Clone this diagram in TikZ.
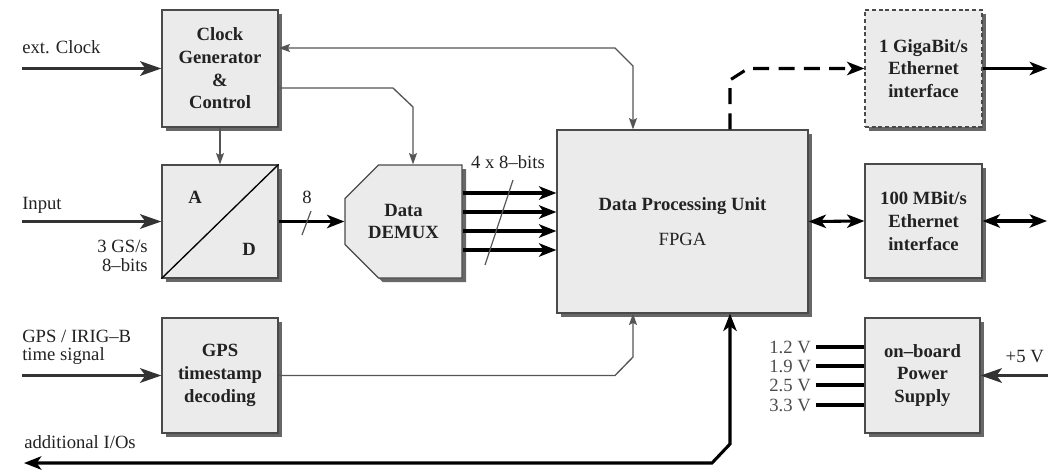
\documentclass[tikz,border=0pt]{standalone}
\usepackage{fontspec}
\setmainfont{Liberation Serif}
\usetikzlibrary{arrows.meta,positioning,calc,shadows,shapes.misc}

\definecolor{boxfill}{HTML}{EBEBEB}
\definecolor{boxline}{HTML}{4A4A4A}
\definecolor{wire}{HTML}{555555}
\definecolor{txt}{HTML}{222222}
\newcommand{\diagfont}{\fontsize{14}{17}\selectfont}

\tikzset{
  blk/.style={draw=boxline, line width=0.9pt, fill=boxfill, text=txt,
    font=\diagfont\bfseries, align=center, inner sep=0pt,
    minimum width=87pt, minimum height=86pt,
    drop shadow={shadow xshift=3pt, shadow yshift=-3pt, fill=black!70, opacity=0.85}},
  lbl/.style={font=\diagfont, text=txt, inner sep=0pt},
  thinline/.style={draw=wire, line width=1pt, >={Stealth[length=8.5pt,width=6pt,inset=1.5pt]}},
  inline/.style={draw=black!80, line width=1.9pt, >={Stealth[length=16pt,width=11pt,inset=4pt]}},
  bus/.style={draw=black, line width=2.3pt, >={Stealth[length=13pt,width=10pt,inset=3.5pt]}},
}

\begin{document}
\begin{tikzpicture}[x=0.75pt, y=-0.75pt, font=\diagfont]
    \useasboundingbox (0,0) rectangle (1064,472);

    % Blocks
    \node[blk, minimum height=87.75pt] (clk) at (220,68.5) {Clock\\Generator\\\&\\Control};
    \node[blk, minimum height=84.75pt] (adc) at (220,221.5) {};
    \node[blk, minimum height=86.25pt] (gps) at (220,375.5) {GPS\\timestamp\\decoding};
    \node[blk, chamfered rectangle, chamfered rectangle corners={north west,south west},
      chamfered rectangle xsep=14pt, chamfered rectangle ysep=12pt,
      minimum width=87.75pt, minimum height=84.75pt] (dmx) at (403.5,221.5) {Data\\DEMUX};
    \node[blk, minimum width=188.25pt, minimum height=137.25pt] (dpu) at (682.5,221.5)
      {Data Processing Unit\\[9pt]{\mdseries FPGA}};
    \node[blk, dash pattern=on 3pt off 2pt, minimum width=87.75pt, minimum height=87.75pt] (gbe)
      at (923.5,68.5) {1 GigaBit/s\\Ethernet\\interface};
    \node[blk, minimum width=87.75pt, minimum height=85.5pt] (eth) at (923.5,221) {100 MBit/s\\Ethernet\\interface};
    \node[blk, minimum width=86.25pt, minimum height=86.25pt] (pwr) at (922.5,375.5) {on--board\\Power\\Supply};

    % A/D split
    \draw[black, line width=1pt] (adc.south west) -- (adc.north east);
    \node[font=\diagfont\bfseries, text=txt] (la) at (195,197) {A};
    \node[font=\diagfont\bfseries, text=txt] (ld) at (249,249) {D};

    % Inputs on the left
    \node[lbl, anchor=base west] (lclk) at (22,53) {ext. Clock};
    \coordinate (extclk) at (22,68.5);
    \draw[inline, ->] (extclk) -- (clk.west);

    \node[lbl, anchor=base west] (linp) at (22,209) {Input};
    \node[lbl, anchor=base east] (lrate) at (148,252) {3 GS/s};
    \node[lbl, anchor=base east] (lbits) at (148,271) {8--bits};
    \coordinate (inp) at (22,221.5);
    \draw[inline, ->] (inp) -- (adc.west);

    \node[lbl, anchor=base west] (lgps) at (22,342) {GPS / IRIG--B};
    \node[lbl, anchor=base west] (ltime) at (22,360) {time signal};
    \coordinate (gpsin) at (22,375.5);
    \draw[inline, ->] (gpsin) -- (gps.west);

    % Clock distribution
    \draw[thinline, ->] (clk.south) -- (adc.north);
    \draw[thinline, ->] (clk.east |- 0,88) -- (393,88) -- (413,107) -- (413,0 |- dmx.north);
    \draw[thinline, <->] (clk.east |- 0,48) -- (615,48) -- (633,66) -- (633,0 |- dpu.north);

    % Data path
    \draw[bus, ->] (adc.east) -- (dmx.west);
    \draw[wire, line width=0.9pt] (311,211) -- (302,235);
    \node[lbl, anchor=base] (l8) at (307,203) {8};
    \foreach \y in {193,212,231,250}
      \draw[bus, ->] (dmx.east |- 0,\y) -- (dpu.west |- 0,\y);
    \draw[wire, line width=0.9pt] (513,180) -- (485,265);
    \node[lbl, anchor=base] (l4x8) at (508,168) {4 x 8--bits};

    % GPS time stamp
    \draw[thinline, ->] (gps.east) -- (615,375.5) -- (633,357) -- (633,0 |- dpu.south);

    % Additional I/Os
    \node[lbl, anchor=base west] (lio) at (24,448) {additional I/Os};
    \coordinate (io) at (24,463);
    \draw[bus, <->] (io) -- (712,463) -- (730,444) -- (730,0 |- dpu.south);

    % Ethernet
    \draw[bus, ->, dash pattern=on 12pt off 7pt] (730,0 |- dpu.north) -- (730,80) -- (748,68.5) -- (gbe.west);
    \coordinate (gbeout) at (1047,68.5);
    \draw[bus, ->] (gbe.east) -- (gbeout);
    \draw[bus, <->] (dpu.east) -- (eth.west);
    \coordinate (ethout) at (1047,221);
    \draw[bus, <->] (eth.east) -- (ethout);

    % Power supply
    \foreach \v/\y [count=\i] in {1.2/347, 1.9/366, 2.5/385, 3.3/405} {
      \node[lbl, anchor=east, text=black!70] (volt\i) at (811,\y) {\v~V};
      \draw[bus, -] ([xshift=4pt]volt\i.east) -- (pwr.west |- 0,\y);
    }
    \node[lbl, anchor=base east] (l5v) at (1044,362) {+5 V};
    \coordinate (p5) at (1048,375.5);
    \draw[inline, ->] (p5) -- (pwr.east);
\end{tikzpicture}
\end{document}
